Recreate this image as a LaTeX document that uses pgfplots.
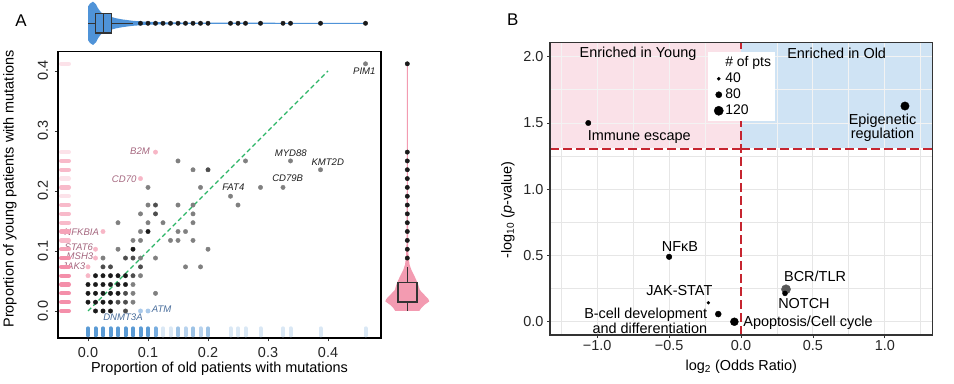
\documentclass[border=0pt]{standalone}
\usepackage{fontspec}
\setmainfont{Liberation Sans}
\usepackage{pgfplots}
\pgfplotsset{compat=1.18}
\definecolor{ptb}{HTML}{1A1A1A}
\definecolor{ptd}{HTML}{4D4D4D}
\definecolor{ptg}{HTML}{808080}
\definecolor{ptpink}{HTML}{F7B6C6}
\definecolor{ptblue}{HTML}{A9C9EA}
\definecolor{lblpink}{HTML}{A5677F}
\definecolor{lblblue}{HTML}{4A6E9C}
\definecolor{lbldark}{HTML}{1F1F1F}
\definecolor{rugb1}{HTML}{5B9BD5}
\definecolor{rugb15}{HTML}{79AEE0}
\definecolor{rugb2}{HTML}{9DC3E6}
\definecolor{rugb25}{HTML}{B8D3EE}
\definecolor{rugb3}{HTML}{DAE8F5}
\definecolor{rugp1}{HTML}{F48FAA}
\definecolor{rugp15}{HTML}{F5A3B8}
\definecolor{rugp2}{HTML}{F8BACA}
\definecolor{rugp3}{HTML}{FCE2E9}
\definecolor{vblue}{HTML}{4F93D8}
\definecolor{vpink}{HTML}{F39BB1}
\definecolor{boxgray}{HTML}{333333}
\definecolor{dgreen}{HTML}{2BB566}
\definecolor{regpink}{HTML}{FAE1E8}
\definecolor{regblue}{HTML}{CFE3F4}
\definecolor{redline}{HTML}{C62530}
\definecolor{gridc}{HTML}{E6E6E6}
\definecolor{gridl}{HTML}{F3F3F3}
\newcommand\fs{\fontsize{14.5}{17}\selectfont}
\newcommand\gs{\fontsize{9.6}{11}\selectfont\itshape}
\begin{document}
\begin{tikzpicture}
\useasboundingbox (0,0) rectangle (954bp,384bp);
\node[font=\fontsize{17}{20}\selectfont] at (21bp,363bp) {A};
\node[font=\fontsize{17}{20}\selectfont] at (512.7bp,364bp) {B};
% ---------------- Panel A main scatter
\begin{axis}[
  at={(58bp,45.7bp)}, anchor=south west, scale only axis,
  width=323bp, height=286.6bp,
  xmin=-0.05, xmax=0.4883, ymin=-0.0455, ymax=0.432,
  axis on top,
  axis line style={black, line width=1.6bp},
  xtick={0,0.1,0.2,0.3,0.4}, xticklabels={0.0,0.1,0.2,0.3,0.4},
  ytick={0,0.1,0.2,0.3,0.4}, yticklabels={0.0,0.1,0.2,0.3,0.4},
  tick align=outside, xtick pos=bottom, ytick pos=left,
  major tick length=3bp, tick style={black!80, line width=0.8bp},
  tick label style={font=\fs, text=black!85},
  yticklabel style={rotate=90, anchor=south},
  xticklabel shift=3bp, yticklabel shift=3.5bp,
  xlabel={Proportion of old patients with mutations},
  ylabel={Proportion of young patients with mutations},
  label style={font=\fs},
  xlabel style={at={(axis description cs:0.5,-0.108)}, anchor=center},
  ylabel style={at={(axis description cs:-0.1486,0.521)}, anchor=center},
]
% bottom rug
\addplot[only marks, mark=|, mark size=3.5bp, mark options={line width=4bp, line cap=round, draw=rugb3}] coordinates {
(0.125,-0.0347)(0.1375,-0.0347)(0.2375,-0.0347)(0.25,-0.0347)(0.2625,-0.0347)(0.2875,-0.0347)(0.325,-0.0347)(0.3375,-0.0347)(0.3875,-0.0347)(0.4625,-0.0347)};
\addplot[only marks, mark=|, mark size=3.5bp, mark options={line width=4bp, line cap=round, draw=rugb25}] coordinates {
(0.1625,-0.0347)(0.1875,-0.0347)};
\addplot[only marks, mark=|, mark size=3.5bp, mark options={line width=4bp, line cap=round, draw=rugb2}] coordinates {
(0.15,-0.0347)(0.175,-0.0347)(0.2,-0.0347)};
\addplot[only marks, mark=|, mark size=3.5bp, mark options={line width=4bp, line cap=round, draw=rugb15}] coordinates {
(0.1125,-0.0347)};
\addplot[only marks, mark=|, mark size=3.5bp, mark options={line width=4bp, line cap=round, draw=rugb1}] coordinates {
(0,-0.0347)(0.0125,-0.0347)(0.025,-0.0347)(0.0375,-0.0347)(0.05,-0.0347)(0.0625,-0.0347)(0.075,-0.0347)(0.0875,-0.0347)(0.1,-0.0347)};
% left rug
\addplot[only marks, mark=-, mark size=3.9bp, mark options={line width=4.2bp, line cap=round, draw=rugp3}] coordinates {
(-0.0383,0.1912)(-0.0383,0.2206)(-0.0383,0.2647)(-0.0383,0.4118)};
\addplot[only marks, mark=-, mark size=3.9bp, mark options={line width=4.2bp, line cap=round, draw=rugp2}] coordinates {
(-0.0383,0.1176)(-0.0383,0.1471)(-0.0383,0.1618)(-0.0383,0.1765)(-0.0383,0.2059)(-0.0383,0.2353)(-0.0383,0.25)};
\addplot[only marks, mark=-, mark size=3.9bp, mark options={line width=4.2bp, line cap=round, draw=rugp15}] coordinates {
(-0.0383,0.1029)(-0.0383,0.1324)};
\addplot[only marks, mark=-, mark size=3.9bp, mark options={line width=4.2bp, line cap=round, draw=rugp1}] coordinates {
(-0.0383,0)(-0.0383,0.0147)(-0.0383,0.0294)(-0.0383,0.0441)(-0.0383,0.0588)(-0.0383,0.0735)(-0.0383,0.0882)};
% diagonal
\addplot[dgreen, line width=1.2bp, dash pattern=on 4.5bp off 3bp] coordinates {(0,0) (0.4,0.4)};
% points
\addplot[only marks, mark=*, mark size=2.2bp, color=ptg] coordinates {
(0.075,0.0147)(0.075,0.0294)(0.1125,0.0294)(0.075,0.0441)(0.0875,0.0588)
(0.1625,0.0735)(0.1875,0.0735)(0.025,0.0882)(0.0875,0.0882)(0.1125,0.0882)
(0.05,0.1029)(0.2,0.1029)(0.075,0.1176)(0.0875,0.1176)(0.1375,0.1176)(0.15,0.1176)(0.175,0.1176)
(0.0875,0.1324)(0.15,0.1324)(0.1625,0.1324)(0.05,0.1471)(0.1,0.1471)(0.125,0.1471)(0.175,0.1471)
(0.0875,0.1618)(0.175,0.1618)(0.1,0.1765)(0.15,0.1765)(0.175,0.1765)(0.25,0.1765)
(0.2375,0.1912)(0.1,0.2059)(0.1875,0.2059)(0.2875,0.2059)(0.325,0.2059)
(0.175,0.2353)(0.3875,0.2353)(0.15,0.25)(0.2625,0.25)(0.3375,0.25)(0.4625,0.4118)};
\addplot[only marks, mark=*, mark size=2.2bp, color=ptd] coordinates {
(0.0625,0)(0.05,0.0147)(0.0625,0.0147)(0.0625,0.0294)(0.075,0.0588)
(0.025,0.0735)(0.0375,0.0735)(0.0875,0.0735)(0.0625,0.0882)(0.075,0.0882)
(0.1125,0.1618)(0.1125,0.1765)(0.2,0.2353)};
\addplot[only marks, mark=*, mark size=2.2bp, color=ptb] coordinates {
(0.0125,0)(0.025,0)(0.0375,0)
(0,0.0147)(0.0125,0.0147)(0.025,0.0147)(0.0375,0.0147)
(0,0.0294)(0.0125,0.0294)(0.025,0.0294)(0.0375,0.0294)(0.05,0.0294)
(0,0.0441)(0.0125,0.0441)(0.025,0.0441)(0.0375,0.0441)(0.05,0.0441)(0.0625,0.0441)
(0.0125,0.0588)(0.025,0.0588)(0.0375,0.0588)(0.05,0.0588)(0.0625,0.0588)
(0.075,0.1029)(0.1,0.1324)};
\addplot[only marks, mark=*, mark size=2.2bp, color=ptpink] coordinates {
(0,0.0588)(0,0.0735)(0.0125,0.0882)(0.0125,0.1029)(0.025,0.1324)(0.0875,0.2206)(0.1125,0.2647)};
\addplot[only marks, mark=*, mark size=2.2bp, color=ptblue] coordinates {(0.0875,0)(0.1,0)};
% gene labels
\node[font=\gs, text=lbldark] at (axis cs:0.4605,0.399) {PIM1};
\node[font=\gs, text=lbldark] at (axis cs:0.338,0.263) {MYD88};
\node[font=\gs, text=lbldark] at (axis cs:0.3995,0.248) {KMT2D};
\node[font=\gs, text=lbldark] at (axis cs:0.3328,0.221) {CD79B};
\node[font=\gs, text=lbldark] at (axis cs:0.2422,0.206) {FAT4};
\node[font=\gs, text=lblpink] at (axis cs:0.0867,0.2667) {B2M};
\node[font=\gs, text=lblpink] at (axis cs:0.0603,0.2195) {CD70};
\node[font=\gs, text=lblpink] at (axis cs:-0.0105,0.132) {NFKBIA};
\node[font=\gs, text=lblpink] at (axis cs:-0.0153,0.106) {STAT6};
\node[font=\gs, text=lblpink] at (axis cs:-0.0133,0.0917) {MSH3};
\node[font=\gs, text=lblpink] at (axis cs:-0.0237,0.0739) {JAK3};
\node[font=\gs, text=lblblue] at (axis cs:0.1228,0.0033) {ATM};
\node[font=\gs, text=lblblue] at (axis cs:0.0583,-0.0105) {DNMT3A};
\end{axis}
% ---------------- top violin (old)
\begin{axis}[
  at={(58bp,337.4bp)}, anchor=south west, scale only axis,
  width=323bp, height=46.6bp,
  xmin=-0.05, xmax=0.4883, ymin=-23.3, ymax=23.3, hide axis, clip=false]
\addplot[fill=vblue, draw=none] coordinates {
(0,16.7)(0.003,19.5)(0.0083,21.7)(0.0133,19)(0.0167,15)(0.0217,11)(0.028,8.5)(0.038,6.5)(0.047,5)(0.058,3.8)(0.075,2.5)(0.092,1.7)(0.117,1.1)(0.167,0.7)(0.3,0.55)(0.4625,0.5)
(0.4625,-0.5)(0.3,-0.55)(0.167,-0.7)(0.117,-1.1)(0.092,-1.7)(0.075,-2.5)(0.058,-3.8)(0.047,-5)(0.038,-6.5)(0.028,-8.5)(0.0217,-11)(0.0167,-15)(0.0133,-19)(0.0083,-21.7)(0.003,-19.5)(0,-16.7)} -- cycle;
\addplot[draw=boxgray, line width=1.4bp] coordinates {(0,0) (0.0125,0)};
\addplot[draw=boxgray, line width=1.4bp] coordinates {(0.039,0) (0.0755,0)};
\addplot[fill=vblue, draw=boxgray, line width=1.4bp] coordinates {(0.0125,-9.7) (0.039,-9.7) (0.039,9.7) (0.0125,9.7)} -- cycle;
\addplot[draw=boxgray, line width=1.4bp] coordinates {(0.0255,-9.7) (0.0255,9.7)};
\addplot[only marks, mark=*, mark size=2.2bp, color=ptb] coordinates {
(0.0875,0)(0.1,0)(0.1125,0)(0.125,0)(0.1375,0)(0.15,0)(0.1625,0)(0.175,0)(0.1875,0)(0.2,0)(0.2375,0)(0.25,0)(0.2625,0)(0.2875,0)(0.325,0)(0.3375,0)(0.3875,0)(0.4625,0)};
\end{axis}
% ---------------- right violin (young)
\begin{axis}[
  at={(384.3bp,45.7bp)}, anchor=south west, scale only axis,
  width=46bp, height=286.6bp,
  xmin=-23, xmax=23, ymin=-0.0455, ymax=0.432, hide axis, clip=false]
\addplot[fill=vpink, draw=none] coordinates {
(12,0)(14,0.005)(17,0.010)(22,0.016)(21,0.020)(17,0.027)(12.5,0.035)(10.5,0.046)(7.5,0.057)(4.2,0.068)(2.3,0.077)(1.3,0.09)(0.8,0.11)(0.55,0.2)(0.5,0.4118)
(-0.5,0.4118)(-0.55,0.2)(-0.8,0.11)(-1.3,0.09)(-2.3,0.077)(-4.2,0.068)(-7.5,0.057)(-10.5,0.046)(-12.5,0.035)(-17,0.027)(-21,0.020)(-22,0.016)(-17,0.010)(-14,0.005)(-12,0)} -- cycle;
\addplot[draw=boxgray, line width=1.4bp] coordinates {(0,0) (0,0.0147)};
\addplot[draw=boxgray, line width=1.4bp] coordinates {(0,0.047) (0,0.0735)};
\addplot[fill=vpink, draw=boxgray, line width=1.4bp] coordinates {(-9.5,0.0147) (9.5,0.0147) (9.5,0.047) (-9.5,0.047)} -- cycle;
\addplot[draw=boxgray, line width=2bp] coordinates {(-9.5,0.0152) (9.5,0.0152)};
\addplot[only marks, mark=*, mark size=2.2bp, color=ptb] coordinates {
(0,0.0882)(0,0.1029)(0,0.1176)(0,0.1324)(0,0.1471)(0,0.1618)(0,0.1765)(0,0.1912)(0,0.2059)(0,0.2206)(0,0.2353)(0,0.25)(0,0.2647)(0,0.4118)};
\end{axis}
% ---------------- Panel B
\begin{axis}[
  at={(550bp,49bp)}, anchor=south west, scale only axis,
  width=382.7bp, height=292.3bp,
  xmin=-1.328, xmax=1.333, ymin=-0.1, ymax=2.106,
  axis on top,
  unbounded coords=jump,
  axis line style={draw=boxgray, line width=1.5bp},
  xtick={-1,-0.5,0,0.5,1}, xticklabels={−1.0,−0.5,0.0,0.5,1.0},
  ytick={0,0.5,1,1.5,2}, yticklabels={0.0,0.5,1.0,1.5,2.0},
  tick align=outside, xtick pos=bottom, ytick pos=left,
  major tick length=3bp,
  tick style={boxgray, line width=0.8bp},
  tick label style={font=\fs, text=black!85},
  xticklabel shift=-1.5bp,
  xlabel={log\textsubscript{2} (Odds Ratio)},
  ylabel={-log\textsubscript{10} (\textit{p}-value)},
  label style={font=\fs},
  xlabel style={at={(axis description cs:0.5,-0.108)}, anchor=center},
  ylabel style={at={(axis description cs:-0.11,0.428)}, anchor=center},
  legend style={at={(axis description cs:0.413,0.968)}, anchor=north west,
    draw=none, fill=white, inner xsep=2bp, inner ysep=2.5bp,
    font=\fontsize{14}{15}\selectfont, row sep=0.8bp,
    /tikz/every even column/.append style={column sep=0bp}},
  legend cell align=left,
]
\addlegendimage{empty legend}\addlegendentry{\# of pts}
\addlegendimage{only marks, mark=*, mark size=1.6bp, black}\addlegendentry{40}
\addlegendimage{only marks, mark=*, mark size=3.1bp, black}\addlegendentry{80}
\addlegendimage{only marks, mark=*, mark size=4.6bp, black}\addlegendentry{120}
\addplot[fill=regpink, draw=none, forget plot] coordinates {(-1.328,1.309) (0,1.309) (0,2.106) (-1.328,2.106)} -- cycle;
\addplot[fill=regblue, draw=none, forget plot] coordinates {(0,1.309) (1.333,1.309) (1.333,2.106) (0,2.106)} -- cycle;
% grid: lower part (gray) and upper part within shaded regions (light)
\addplot[draw=gridc, line width=0.9bp, forget plot] coordinates {
(-1.25,-0.1)(-1.25,1.301)(nan,nan)(-1,-0.1)(-1,1.301)(nan,nan)(-0.75,-0.1)(-0.75,1.301)(nan,nan)
(-0.5,-0.1)(-0.5,1.301)(nan,nan)(-0.25,-0.1)(-0.25,1.301)(nan,nan)(0.25,-0.1)(0.25,1.301)(nan,nan)
(0.5,-0.1)(0.5,1.301)(nan,nan)(0.75,-0.1)(0.75,1.301)(nan,nan)(1,-0.1)(1,1.301)(nan,nan)(1.25,-0.1)(1.25,1.301)(nan,nan)
(-1.328,0)(1.333,0)(nan,nan)(-1.328,0.25)(1.333,0.25)(nan,nan)(-1.328,0.5)(1.333,0.5)(nan,nan)
(-1.328,0.75)(1.333,0.75)(nan,nan)(-1.328,1)(1.333,1)(nan,nan)(-1.328,1.25)(1.333,1.25)};
\addplot[draw=gridl, line width=0.9bp, forget plot] coordinates {
(-1.25,1.309)(-1.25,2.106)(nan,nan)(-1,1.309)(-1,2.106)(nan,nan)(-0.75,1.309)(-0.75,2.106)(nan,nan)
(-0.5,1.309)(-0.5,2.106)(nan,nan)(-0.25,1.309)(-0.25,2.106)(nan,nan)(0.25,1.309)(0.25,2.106)(nan,nan)
(0.5,1.309)(0.5,2.106)(nan,nan)(0.75,1.309)(0.75,2.106)(nan,nan)(1,1.309)(1,2.106)(nan,nan)(1.25,1.309)(1.25,2.106)(nan,nan)
(-1.328,1.5)(1.333,1.5)(nan,nan)(-1.328,1.75)(1.333,1.75)(nan,nan)(-1.328,2)(1.333,2)};
\addplot[color=redline, line width=1.5bp, dash pattern=on 9bp off 4bp, forget plot] coordinates {(0,-0.1) (0,2.106)};
\addplot[color=redline, line width=1.6bp, line cap=butt, dash pattern=on 9bp off 4bp, forget plot] coordinates {(-1.328,1.303) (0,1.303)};
\addplot[color=redline, line width=1.6bp, line cap=butt, dash pattern=on 9bp off 4bp, forget plot] coordinates {(0,1.303) (1.333,1.303)};
\addplot[only marks, mark=*, mark size=2.7bp, black, forget plot] coordinates {(-1.062,1.5)};
\addplot[only marks, mark=*, mark size=4.2bp, black, forget plot] coordinates {(1.14,1.628)};
\addplot[only marks, mark=*, mark size=2.8bp, black, forget plot] coordinates {(-0.50,0.49)};
\addplot[only marks, mark=*, mark size=1.5bp, black, forget plot] coordinates {(-0.227,0.143)};
\addplot[only marks, mark=*, mark size=3bp, black, forget plot] coordinates {(-0.158,0.058)};
\addplot[only marks, mark=*, mark size=4bp, black, forget plot] coordinates {(-0.046,0.0)};
\addplot[only marks, mark=*, mark size=4.6bp, color=black!65, forget plot] coordinates {(0.313,0.245)};
\addplot[only marks, mark=*, mark size=2.5bp, black, forget plot] coordinates {(0.306,0.214)};
\node[font=\fs] at (axis cs:-0.716,2.026) {Enriched in Young};
\node[font=\fs] at (axis cs:0.665,2.026) {Enriched in Old};
\node[font=\fs, anchor=west, inner sep=0pt] at (axis cs:-1.066,1.392) {Immune escape};
\node[font=\fontsize{14.5}{12.5}\selectfont, align=center, inner sep=0pt] at (axis cs:0.984,1.462) {Epigenetic\\regulation};
\node[font=\fs] at (axis cs:-0.424,0.571) {NFκB};
\node[font=\fs] at (axis cs:-0.429,0.232) {JAK-STAT};
\node[font=\fontsize{14.5}{12}\selectfont, align=right, anchor=east, inner sep=0pt] at (axis cs:-0.234,0.007) {B-cell development\\and differentiation};
\node[font=\fs, anchor=west, inner sep=0pt] at (axis cs:0.016,-0.005) {Apoptosis/Cell cycle};
\node[font=\fs] at (axis cs:0.515,0.345) {BCR/TLR};
\node[font=\fs] at (axis cs:0.438,0.139) {NOTCH};
\end{axis}
\end{tikzpicture}
\end{document}
